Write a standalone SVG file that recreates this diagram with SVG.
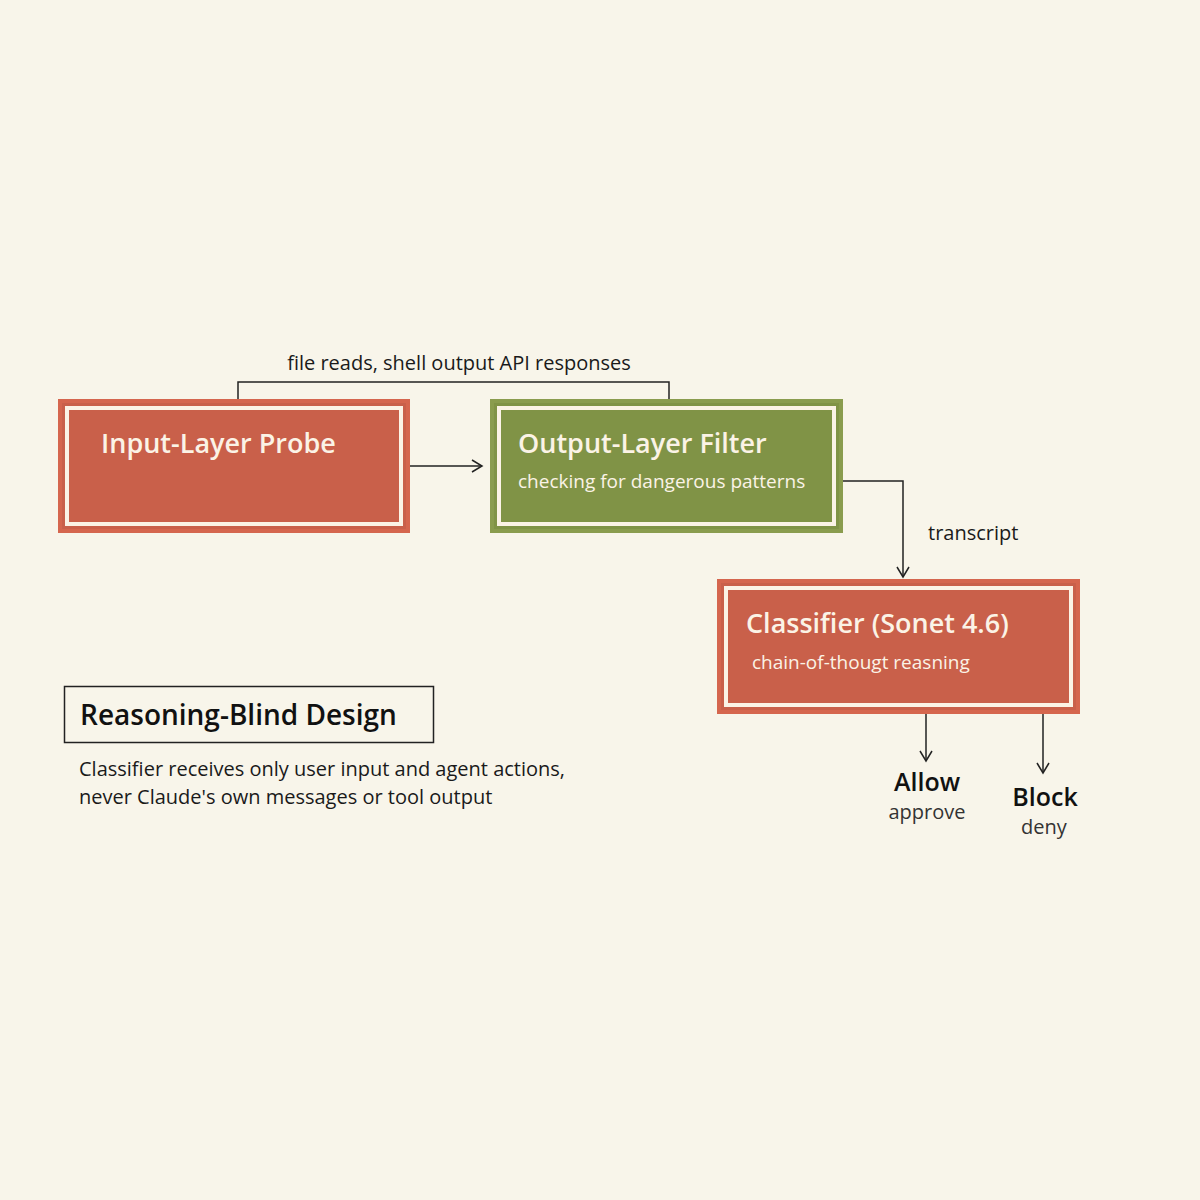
<svg xmlns="http://www.w3.org/2000/svg" width="1200" height="1200" viewBox="0 0 1200 1200">
<defs>
<style>
text{font-family:"Open Sans","Liberation Sans",sans-serif}
.red{fill:#c9604a;stroke:#d5664e;stroke-width:4}
.grn{fill:#809346;stroke:#8a9c4e;stroke-width:4}
.inner{fill:none;stroke:#fbf3e6;stroke-width:4}
.t{fill:#fbf3e6;font-size:27px;font-weight:600}
.s{fill:#fbf3e6;font-size:19px}
.c{fill:none;stroke:#222;stroke-width:1.5}
.lbl{fill:#1a1a1a;font-size:20px}
</style>
<marker id="a" markerWidth="14" markerHeight="14" refX="12" refY="7" orient="auto" markerUnits="userSpaceOnUse">
<path d="M2,1 L12,7 L2,13" fill="none" stroke="#222" stroke-width="1.5"/>
</marker>
</defs>
<rect width="1200" height="1200" fill="#f8f5ea"/>
<g id="connectors">
<path class="c" d="M238,399 V382 H669 V399"/>
<path class="c" d="M410,466 H482" marker-end="url(#a)"/>
<path class="c" d="M843,481 H903 V577" marker-end="url(#a)"/>
<path class="c" d="M926,714 V761" marker-end="url(#a)"/>
<path class="c" d="M1043,714 V773" marker-end="url(#a)"/>
<text class="lbl" x="459" y="370" text-anchor="middle">file reads, shell output API responses</text>
<text class="lbl" x="928" y="540">transcript</text>
</g>
<g id="input">
<rect class="red" x="60" y="401" width="348" height="130"/>
<rect class="inner" x="67" y="408" width="334" height="116"/>
<text class="t" x="101" y="453">Input-Layer Probe</text>
</g>
<g id="output">
<rect class="grn" x="492" y="401" width="349" height="130"/>
<rect class="inner" x="499" y="408" width="335" height="116"/>
<text class="t" x="518" y="453">Output-Layer Filter</text>
<text class="s" x="518" y="488">checking for dangerous patterns</text>
</g>
<g id="classifier">
<rect class="red" x="719" y="581" width="359" height="131"/>
<rect class="inner" x="726" y="588" width="345" height="117"/>
<text class="t" x="746" y="633">Classifier (Sonet 4.6)</text>
<text class="s" x="752" y="669">chain-of-thougt reasning</text>
</g>
<g id="allow">
<text x="927" y="791" text-anchor="middle" font-size="25" font-weight="600" fill="#111">Allow</text>
<text x="927" y="819" text-anchor="middle" font-size="20" fill="#333">approve</text>
</g>
<g id="block">
<text x="1045" y="806" text-anchor="middle" font-size="25" font-weight="600" fill="#111">Block</text>
<text x="1044" y="834" text-anchor="middle" font-size="20" fill="#333">deny</text>
</g>
<g id="note">
<rect x="64.5" y="686.5" width="369" height="56" fill="none" stroke="#222" stroke-width="1.5"/>
<text x="80" y="725" font-size="28" font-weight="600" fill="#111">Reasoning-Blind Design</text>
<text x="79" y="776" font-size="20" fill="#1a1a1a">Classifier receives only user input and agent actions,</text>
<text x="79" y="804" font-size="20" fill="#1a1a1a">never Claude's own messages or tool output</text>
</g>
</svg>
